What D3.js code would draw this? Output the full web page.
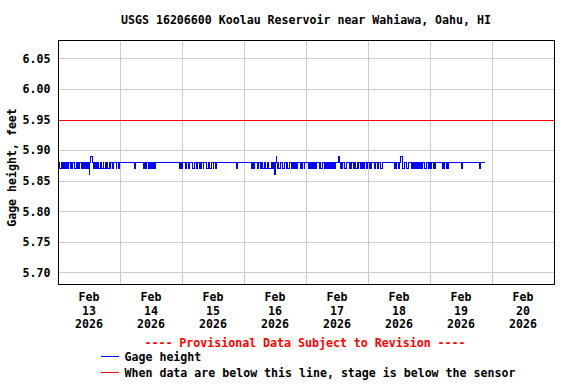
<!DOCTYPE html>
<html>
<head>
<meta charset="utf-8">
<script src="https://cdn.jsdelivr.net/npm/d3@7"></script>
<style>
  html, body { margin: 0; padding: 0; background: #fff; }
  svg { display: block; }
  text { font-family: "DejaVu Sans Mono", "Liberation Mono", monospace; font-weight: bold; font-size: 11.6px; }
</style>
</head>
<body>
<svg id="chart" width="576" height="384"></svg>
<script>
// ---------- DATA ----------
const title = "USGS 16206600 Koolau Reservoir near Wahiawa, Oahu, HI";
const yTitle = "Gage height, feet";
const yTicks = [5.70, 5.75, 5.80, 5.85, 5.90, 5.95, 6.00, 6.05];
const xTickMonth = ["Feb", "Feb", "Feb", "Feb", "Feb", "Feb", "Feb", "Feb"];
const xTickDay = ["13", "14", "15", "16", "17", "18", "19", "20"];
const xTickYear = ["2026", "2026", "2026", "2026", "2026", "2026", "2026", "2026"];
const sensorLevel = 5.95;           // red reference line
const provisional = "---- Provisional Data Subject to Revision ----";
const legendLabels = ["Gage height", "When data are below this line, stage is below the sensor"];

// 15-minute gage height readings, one string per day starting at 00:00.
// Each digit d means 5.8d feet (8 -> 5.88, 7 -> 5.87, 6 -> 5.86, 9 -> 5.89).
const gageFeb13 = "88877887 78787878 78887878 88778787 77887877 87787787 68899887 78787877 77887787 78788778 87887788 88788778";
const gageFeb14 = "88888888 88888888 88888887 88888888 88887788 78887878 78787878 88888888 88888888 88888888 88888888 88887787";
const gageFeb15 = "88888778 88778888 87788887 88878788 87888877 78877888 78887888 88888888 88888888 88888888 88888788 88888888";
const gageFeb16 = "88888888 88887877 88888778 87878778 88778877 77878786 88987877 78887788 88787788 87878878 88788887 78788788";
const gageFeb17 = "88887878 87878778 78888787 78887878 87788787 78878788 88898787 78887788 88878788 87878778 77887788 78788778";
const gageFeb18 = "88878788 88778887 78887788 88888888 88888888 87878887 78899877 78887788 88887877 87787788 78877888 77888778";
const gageFeb19 = "87788778 78888888 88878788 87878888 88888888 88888888 87888888 88888888 88888888 88888788 888888";
const gageDays = [gageFeb13, gageFeb14, gageFeb15, gageFeb16, gageFeb17, gageFeb18, gageFeb19];
const digitValue = { "6": 5.86, "7": 5.87, "8": 5.88, "9": 5.89 };

// ---------- BUILD SERIES ----------
const t0 = Date.UTC(2026, 1, 13, 0, 0);
const DAY = 86400000, STEP = 15 * 60000;
const series = [];
gageDays.forEach((s, k) => {
  s.replace(/ /g, "").split("").forEach((ch, i) => {
    series.push({ t: new Date(t0 + k * DAY + i * STEP), v: digitValue[ch] });
  });
});

// ---------- LAYOUT ----------
const svg = d3.select("#chart");
const L = 58, R = 554, T = 39.5, B = 284;

const x = d3.scaleUtc()
  .domain([new Date(Date.UTC(2026, 1, 13)), new Date(Date.UTC(2026, 1, 21))])
  .range([L, R]);
const y = d3.scaleLinear().domain([5.681, 6.081]).range([B, T]);

// grid
const gridG = svg.append("g").attr("shape-rendering", "crispEdges");
gridG.selectAll("line.h").data(yTicks).join("line")
  .attr("x1", L).attr("x2", R)
  .attr("y1", d => Math.round(y(d)) + 0.5).attr("y2", d => Math.round(y(d)) + 0.5)
  .attr("stroke", "#cccccc").attr("stroke-width", 1);
const dayBounds = d3.utcDay.range(new Date(Date.UTC(2026, 1, 14)), new Date(Date.UTC(2026, 1, 21)));
gridG.selectAll("line.v").data(dayBounds).join("line")
  .attr("y1", T).attr("y2", B)
  .attr("x1", d => Math.round(x(d)) + 0.5).attr("x2", d => Math.round(x(d)) + 0.5)
  .attr("stroke", "#cccccc").attr("stroke-width", 1);

// sensor line
svg.append("line")
  .attr("x1", L).attr("x2", R)
  .attr("y1", Math.round(y(sensorLevel)) + 0.5).attr("y2", Math.round(y(sensorLevel)) + 0.5)
  .attr("stroke", "#ff0000").attr("stroke-width", 1).attr("shape-rendering", "crispEdges");

// data line (stepped so each brief reading change draws a vertical bar)
const line = d3.line().x(d => x(d.t)).y(d => y(d.v)).curve(d3.curveStepAfter);
svg.append("path").datum(series)
  .attr("d", line)
  .attr("fill", "none").attr("stroke", "#0000ff").attr("stroke-width", 1)
  .attr("shape-rendering", "crispEdges");

// frame
svg.append("rect")
  .attr("x", L + 0.5).attr("y", Math.round(T) + 0.5)
  .attr("width", R - L).attr("height", B - Math.round(T))
  .attr("fill", "none").attr("stroke", "#000").attr("stroke-width", 1)
  .attr("shape-rendering", "crispEdges");

// y tick labels
svg.append("g").selectAll("text").data(yTicks).join("text")
  .attr("x", 50.5).attr("y", d => y(d) + 4.3)
  .attr("text-anchor", "end").text(d => d.toFixed(2));

// y title
svg.append("text")
  .attr("transform", "translate(15.5,167.5) rotate(-90)")
  .attr("text-anchor", "middle").text(yTitle);

// title
svg.append("text").attr("x", 306).attr("y", 24)
  .attr("text-anchor", "middle").text(title);

// x tick labels at noon of each day
const noon = xTickDay.map((d, i) => new Date(Date.UTC(2026, 1, 13 + i, 12)));
const xl = svg.append("g").selectAll("text").data(noon).join("text")
  .attr("text-anchor", "middle")
  .attr("x", d => x(d));
xl.append("tspan").attr("x", d => x(d)).attr("y", 301).text((d, i) => xTickMonth[i]);
xl.append("tspan").attr("x", d => x(d)).attr("y", 315.3).text((d, i) => xTickDay[i]);
xl.append("tspan").attr("x", d => x(d)).attr("y", 328).text((d, i) => xTickYear[i]);

// provisional note
svg.append("text").attr("x", 305).attr("y", 347)
  .attr("text-anchor", "middle").attr("fill", "#ff0000").text(provisional);

// legend
const legColors = ["#0000ff", "#ff0000"];
const legY = [356.5, 372.5];
legendLabels.forEach((lab, i) => {
  svg.append("line").attr("x1", 101).attr("x2", 119)
    .attr("y1", legY[i]).attr("y2", legY[i])
    .attr("stroke", legColors[i]).attr("stroke-width", 1).attr("shape-rendering", "crispEdges");
  svg.append("text").attr("x", 124.5).attr("y", legY[i] + 4.5).text(lab);
});
</script>
</body>
</html>
